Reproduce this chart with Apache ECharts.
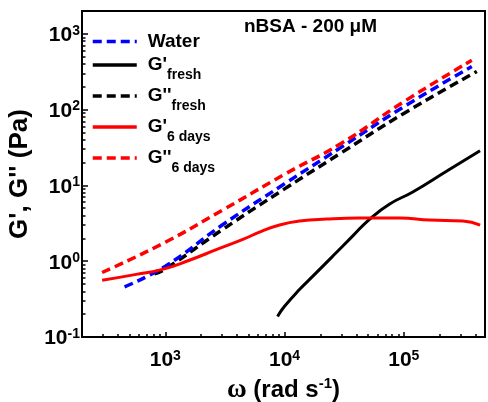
<!DOCTYPE html>
<html>
<head>
<meta charset="utf-8">
<script src="https://cdn.jsdelivr.net/npm/echarts@6/dist/echarts.min.js"></script>
<style>
html, body { margin: 0; padding: 0; background: #fff; }
#main { width: 488px; height: 402px; }
</style>
</head>
<body>
<div id="main"></div>
<script>
// omega (rad/s) and modulus (Pa)
var omegaWater = [455, 1000, 3000, 10000, 30000, 100000, 372000];
var gWater = [0.46, 0.86, 3.0, 10.5, 32, 109, 370];

var omegaG1Fresh = [8730, 10000, 13400, 17200, 25300, 37200, 51800, 76200, 119000, 230000, 436000];
var g1Fresh = [0.187, 0.254, 0.426, 0.63, 1.16, 2.14, 3.6, 5.69, 8.2, 15.5, 28.6];

var omegaG2Fresh = [810, 1000, 3000, 10000, 30000, 100000, 410000];
var g2Fresh = [0.68, 0.79, 2.6, 9, 27, 89, 318];

var omegaG16d = [295, 570, 944, 1590, 2740, 4520, 6160, 9080, 13400, 22500, 42700, 92500, 165000, 313000, 437000];
var g16d = [0.56, 0.67, 0.78, 1.03, 1.44, 1.95, 2.42, 3.0, 3.39, 3.6, 3.71, 3.71, 3.49, 3.39, 3.0];

var omegaG26d = [295, 1000, 3000, 10000, 30000, 100000, 372000];
var g26d = [0.71, 1.78, 4.7, 14, 36, 127, 447];

var xMajor = [1000, 10000, 100000];
var yMajor = [0.1, 1, 10, 100, 1000];
var xMinor = [];
[100, 1000, 10000, 100000].forEach(function (d) {
    for (var k = 2; k <= 9; k++) {
        var v = d * k;
        if (v > 200 && v < 480000) xMinor.push(v);
    }
});
var yMinor = [];
[0.1, 1, 10, 100].forEach(function (d) {
    for (var k = 2; k <= 9; k++) yMinor.push(+(d * k).toFixed(4));
});

function pairs(xs, ys) {
    return xs.map(function (x, i) { return [x, ys[i]]; });
}

var FONT = '"Liberation Sans", Arial, sans-serif';

function powLabel(v) {
    var e = Math.round(Math.log(v) / Math.LN10);
    return '{b|10}{p|' + e + '}';
}

var tickRich = {
    b: { fontSize: 21, fontWeight: 'bold', fontFamily: FONT, color: '#000', lineHeight: 24, padding: [3, 0, 0, 0] },
    p: { fontSize: 14, fontWeight: 'bold', fontFamily: FONT, color: '#000', lineHeight: 14, verticalAlign: 'top', padding: [2, 0, 0, 0] }
};

var legendNames = {
    'Water': '{w|Water}',
    "G'fresh": "{m|G'}{s|fresh}",
    "G''fresh": "{m|G''}{s|fresh}",
    "G'6days": "{m|G'}{s|6 days}",
    "G''6days": "{m|G''}{s|6 days}"
};

var myChart = echarts.init(document.getElementById('main'), null, { renderer: 'canvas' });

var option = {
    animation: false,
    backgroundColor: '#fff',
    title: {
        text: 'nBSA - 200 \u03bcM',
        left: 244,
        top: 17,
        padding: 0,
        textStyle: { fontSize: 19, fontWeight: 'bold', fontFamily: FONT, color: '#000' }
    },
    legend: {
        orient: 'vertical',
        left: 91,
        top: 32,
        padding: 0,
        itemGap: -2,
        itemWidth: 44,
        itemHeight: 14,
        icon: 'inherit',
        itemStyle: { opacity: 0 },
        lineStyle: { width: 3.5 },
        data: ['Water', "G'fresh", "G''fresh", "G'6days", "G''6days"],
        formatter: function (name) { return legendNames[name]; },
        textStyle: {
            rich: {
                w: { fontSize: 19, fontWeight: 'bold', fontFamily: FONT, color: '#000', lineHeight: 20, padding: [0, 0, 0, 6] },
                m: { fontSize: 19, fontWeight: 'bold', fontFamily: FONT, color: '#000', lineHeight: 34, padding: [0, 0, 0, 6] },
                s: { fontSize: 14, fontWeight: 'bold', fontFamily: FONT, color: '#000', lineHeight: 15, padding: [19, 0, 0, 0], verticalAlign: 'bottom' }
            }
        }
    },
    grid: {
        left: 82,
        right: 3,
        top: 11,
        bottom: 65,
        outerBoundsMode: 'none',
        containLabel: false,
        show: true,
        borderColor: '#000',
        borderWidth: 2,
        backgroundColor: 'transparent'
    },
    xAxis: [{
        type: 'log',
        min: 200,
        max: 480000,
        name: '{w|\u03c9} (rad s{p|-1})',
        nameLocation: 'middle',
        nameGap: 39,
        nameTextStyle: {
            fontSize: 24, fontWeight: 'bold', fontFamily: FONT, color: '#000',
            rich: {
                w: { fontSize: 27, fontWeight: 'bold', fontFamily: '"Liberation Serif", serif', color: '#000', lineHeight: 28 },
                p: { fontSize: 15, fontWeight: 'bold', fontFamily: FONT, color: '#000', lineHeight: 15, verticalAlign: 'top' }
            }
        },
        axisLine: { show: true, lineStyle: { color: '#000', width: 2 } },
        axisTick: { show: true, inside: true, length: 5, customValues: xMajor, lineStyle: { color: '#000', width: 1.5 } },
        axisLabel: { margin: 10, customValues: xMajor, formatter: powLabel, rich: tickRich },
        splitLine: { show: false },
        minorTick: { show: false }
    }, {
        type: 'log',
        min: 200,
        max: 480000,
        position: 'bottom',
        axisLine: { show: false },
        axisTick: { show: true, inside: true, length: 3, customValues: xMinor, lineStyle: { color: '#000', width: 1.5 } },
        axisLabel: { show: false },
        splitLine: { show: false }
    }],
    yAxis: [{
        type: 'log',
        min: 0.1,
        max: 2000,
        name: "G', G'' (Pa)",
        nameLocation: 'middle',
        nameGap: 40,
        nameTextStyle: { fontSize: 26, fontWeight: 'bold', fontFamily: FONT, color: '#000' },
        axisLine: { show: true, lineStyle: { color: '#000', width: 2 } },
        axisTick: { show: true, inside: true, length: 6, customValues: yMajor, lineStyle: { color: '#000', width: 1.5 } },
        axisLabel: { margin: 2, customValues: yMajor, formatter: powLabel, rich: tickRich },
        splitLine: { show: false }
    }, {
        type: 'log',
        min: 0.1,
        max: 2000,
        position: 'left',
        axisLine: { show: false },
        axisTick: { show: true, inside: true, length: 3.5, customValues: yMinor, lineStyle: { color: '#000', width: 1.5 } },
        axisLabel: { show: false },
        splitLine: { show: false }
    }],
    series: [{
        name: "G''fresh",
        type: 'line',
        data: pairs(omegaG2Fresh, g2Fresh),
        symbol: 'none',
        smooth: true,
        color: '#000',
        lineStyle: { color: '#000', width: 3.5, type: [9, 5] }
    }, {
        name: 'Water',
        type: 'line',
        data: pairs(omegaWater, gWater),
        symbol: 'none',
        smooth: true,
        color: '#0000ff',
        lineStyle: { color: '#0000ff', width: 3.5, type: [9, 5] }
    }, {
        name: "G'fresh",
        type: 'line',
        data: pairs(omegaG1Fresh, g1Fresh),
        symbol: 'none',
        smooth: true,
        color: '#000',
        lineStyle: { color: '#000', width: 3 }
    }, {
        name: "G'6days",
        type: 'line',
        data: pairs(omegaG16d, g16d),
        symbol: 'none',
        smooth: true,
        color: '#ff0000',
        lineStyle: { color: '#ff0000', width: 3 }
    }, {
        name: "G''6days",
        type: 'line',
        data: pairs(omegaG26d, g26d),
        symbol: 'none',
        smooth: true,
        color: '#ff0000',
        lineStyle: { color: '#ff0000', width: 3.5, type: [9, 5] }
    }]
};

myChart.setOption(option);
</script>
</body>
</html>
